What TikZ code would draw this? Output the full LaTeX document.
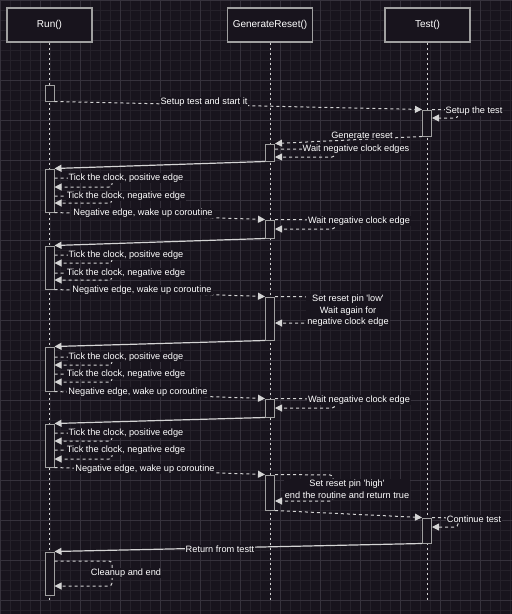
\documentclass[tikz,border=0pt]{standalone}
\usepackage{fontspec}
\setmainfont{Liberation Sans}
\usepackage{xcolor}
\usetikzlibrary{arrows.meta}

\definecolor{bgdark}{HTML}{18141D}
\definecolor{gridminor}{HTML}{25212A}
\definecolor{gridmajor}{HTML}{36323C}
\definecolor{linegray}{HTML}{D4D4D4}
\definecolor{boxgray}{HTML}{A0A0A0}

\tikzset{
  head/.style={draw=boxgray, line width=1.2pt, fill=bgdark, minimum width=85pt, minimum height=34pt, text=white, font=\fontsize{10}{12}\selectfont},
  act/.style={draw=boxgray, line width=1pt, fill=bgdark, minimum width=9pt, inner sep=0pt},
  life/.style={linegray, dash pattern=on 2.5pt off 2.5pt, line width=0.9pt},
  call/.style={linegray, dash pattern=on 3pt off 3pt, line width=1pt, -{Triangle[width=7pt,length=7pt]}},
  back/.style={linegray, line width=1.2pt, -{Triangle[width=7pt,length=7pt]}},
  lbl/.style={fill=bgdark, text=white, inner sep=1pt, font=\fontsize{9.2}{11.5}\selectfont, align=center},
}

\begin{document}
\begin{tikzpicture}[x=1pt, y=-1pt]

    % Canvas and grid
    \useasboundingbox (0,0) rectangle (512,614);
    \fill[bgdark] (0,0) rectangle (512,614);
    \foreach \i in {0,10,...,510} \draw[gridminor, line width=0.6pt] (\i,0) -- (\i,614);
    \foreach \j in {0,10,...,610} \draw[gridminor, line width=0.6pt] (0,\j) -- (512,\j);
    \foreach \i in {0,40,...,510} \draw[gridmajor, line width=0.6pt] (\i,0) -- (\i,614);
    \foreach \j in {0,40,...,610} \draw[gridmajor, line width=0.6pt] (0,\j) -- (512,\j);

    % Participants
    \node[head] (run)  at (49.5, 25) {Run()};
    \node[head] (gen)  at (270, 25)  {GenerateReset()};
    \node[head] (test) at (427.5, 25) {Test()};

    % Lifelines
    \coordinate (run-end)  at (49.5, 600);
    \coordinate (gen-end)  at (270, 600);
    \coordinate (test-end) at (427.5, 600);
    \draw[life] (run)  -- (run-end);
    \draw[life] (gen)  -- (gen-end);
    \draw[life] (test) -- (test-end);

    % Activation bars
    \node[act, minimum height=16pt] (r1) at (49.5, 93)    {};
    \node[act, minimum height=43pt] (r2) at (49.5, 190.5) {};
    \node[act, minimum height=43pt] (r3) at (49.5, 267.5) {};
    \node[act, minimum height=44pt] (r4) at (49.5, 369)   {};
    \node[act, minimum height=43pt] (r5) at (49.5, 445.5) {};
    \node[act, minimum height=43pt] (r6) at (49.5, 573.5) {};
    \node[act, minimum height=17pt] (g1) at (270, 152.5)  {};
    \node[act, minimum height=18pt] (g2) at (270, 229)    {};
    \node[act, minimum height=43pt] (g3) at (270, 318.5)  {};
    \node[act, minimum height=18pt] (g4) at (270, 408)    {};
    \node[act, minimum height=35pt] (g5) at (270, 492.5)  {};
    \node[act, minimum height=26pt] (t1) at (427, 123)    {};
    \node[act, minimum height=25pt] (t2) at (427, 530.5)  {};

    % Calls (dashed)
    \draw[call] (r1.south east) -- (t1.north west);
    \draw[call] (t1.south west) -- (g1.north east);
    \draw[call] (r2.south east) -- (g2.north west);
    \draw[call] (r3.south east) -- (g3.north west);
    \draw[call] (r4.south east) -- (g4.north west);
    \draw[call] (r5.south east) -- (g5.north west);
    \draw[call] (g5.south east) -- (t2.north west);

    % Returns (solid)
    \draw[back] (g1.south west) -- (r2.north east);
    \draw[back] (g2.south west) -- (r3.north east);
    \draw[back] (g3.south west) -- (r4.north east);
    \draw[back] (g4.south west) -- (r5.north east);
    \draw[back] (t2.south west) -- (r6.north east);

    % Self calls
    \begin{scope}[rounded corners=3pt]
        % Run(): clock ticks
        \draw[call] (r2.east |- 0,178) -- (112,178) -- (112,187) -- (r2.east |- 0,187);
        \draw[call] (r2.east |- 0,196) -- (112,196) -- (112,203) -- (r2.east |- 0,203);
        \draw[call] (r3.east |- 0,255) -- (112,255) -- (112,263) -- (r3.east |- 0,263);
        \draw[call] (r3.east |- 0,273) -- (112,273) -- (112,280) -- (r3.east |- 0,280);
        \draw[call] (r4.east |- 0,357) -- (112,357) -- (112,365) -- (r4.east |- 0,365);
        \draw[call] (r4.east |- 0,374) -- (112,374) -- (112,382) -- (r4.east |- 0,382);
        \draw[call] (r5.east |- 0,433) -- (112,433) -- (112,441) -- (r5.east |- 0,441);
        \draw[call] (r5.east |- 0,450) -- (112,450) -- (112,459) -- (r5.east |- 0,459);
        \draw[call] (r6.east |- 0,561) -- (112,561) -- (112,586) -- (r6.east |- 0,586);

        % GenerateReset(): waits
        \draw[call] (g1.east |- 0,149) -- (335,149) -- (335,157) -- (g1.east |- 0,157);
        \draw[call] (g2.north east) -- (335,220) -- (335,229) -- (g2.east |- 0,229);
        \draw[call] (g3.north east) -- (335,297) -- (335,323) -- (g3.east |- 0,323);
        \draw[call] (g4.north east) -- (335,399) -- (335,408) -- (g4.east |- 0,408);
        \draw[call] (g5.north east) -- (333,475) -- (333,501) -- (g5.east |- 0,501);

        % Test(): setup and continue
        \draw[call] (t1.north east) -- (458,110) -- (458,118) -- (t1.east |- 0,118);
        \draw[call] (t2.north east) -- (458,518) -- (458,527) -- (t2.east |- 0,527);
    \end{scope}

    % Message labels
    \node[lbl] (m1)  at (204, 102) {Setup test and start it};
    \node[lbl] (m2)  at (474, 111) {Setup the test};
    \node[lbl] (m3)  at (362, 135) {Generate reset};
    \node[lbl] (m4)  at (356, 149) {Wait negative clock edges};
    \node[lbl] (m5)  at (126, 178) {Tick the clock, positive edge};
    \node[lbl] (m6)  at (126, 196) {Tick the clock, negative edge};
    \node[lbl] (m7)  at (143, 213) {Negative edge, wake up coroutine};
    \node[lbl] (m8)  at (359, 221) {Wait negative clock edge};
    \node[lbl] (m9)  at (126, 255) {Tick the clock, positive edge};
    \node[lbl] (m10) at (126, 273) {Tick the clock, negative edge};
    \node[lbl] (m11) at (142, 290) {Negative edge, wake up coroutine};
    \node[lbl] (m12) at (348, 311) {Set reset pin \textquotesingle low\textquotesingle\\Wait again for\\negative clock edge};
    \node[lbl] (m13) at (126, 357) {Tick the clock, positive edge};
    \node[lbl] (m14) at (126, 374) {Tick the clock, negative edge};
    \node[lbl] (m15) at (138, 392) {Negative edge, wake up coroutine};
    \node[lbl] (m16) at (359, 400) {Wait negative clock edge};
    \node[lbl] (m17) at (126, 433) {Tick the clock, positive edge};
    \node[lbl] (m18) at (126, 450) {Tick the clock, negative edge};
    \node[lbl] (m19) at (145, 469) {Negative edge, wake up coroutine};
    \node[lbl] (m20) at (347, 489) {Set reset pin \textquotesingle high\textquotesingle\\end the routine and return true};
    \node[lbl] (m21) at (474, 519) {Continue test};
    \node[lbl] (m22) at (220, 549) {Return from testt};
    \node[lbl] (m23) at (126, 573) {Cleanup and end};

\end{tikzpicture}
\end{document}
